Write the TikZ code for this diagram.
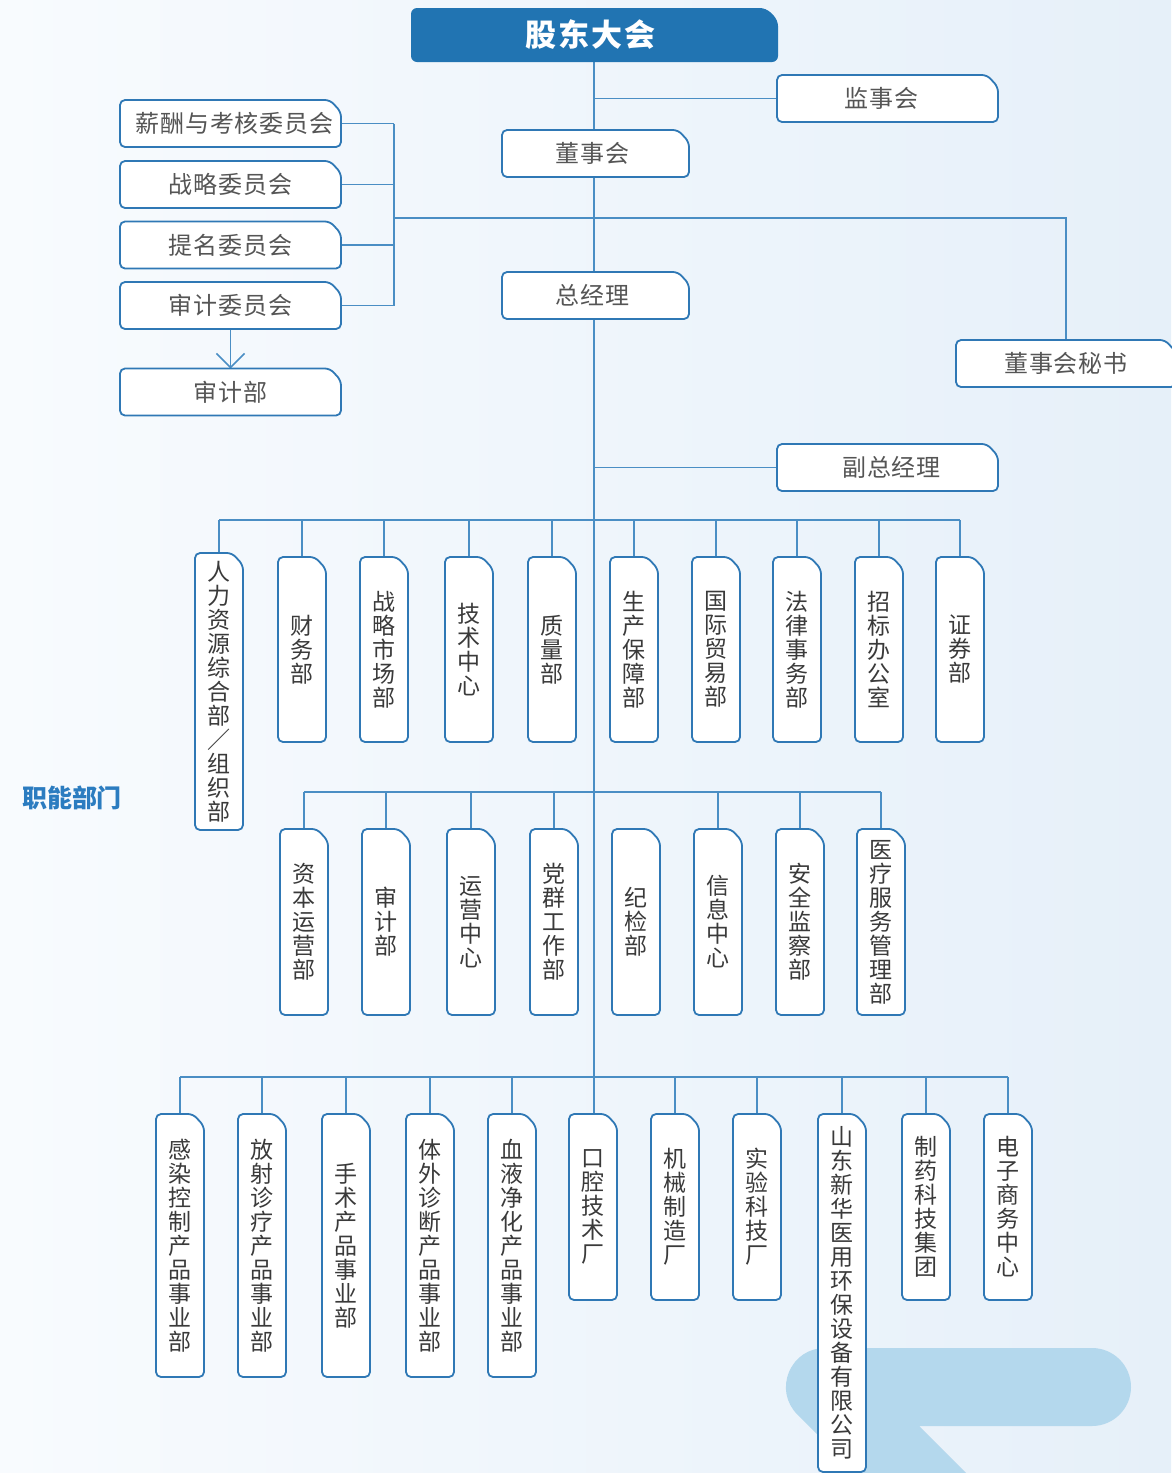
\documentclass[tikz,border=0pt]{standalone}
\usepackage{fontspec}
\setmainfont{Noto Sans CJK SC}
\newfontfamily\cjkls{Noto Sans CJK SC}[LetterSpace=4]
\newfontfamily\cjkhd{Noto Sans CJK SC}[LetterSpace=6]
\usetikzlibrary{arrows.meta,calc}
\definecolor{lc}{HTML}{4A8EC4}
\definecolor{bc}{HTML}{2F78B5}
\definecolor{hd}{HTML}{2174B2}
\definecolor{lab}{HTML}{2B7CC0}
\definecolor{tx}{HTML}{555555}
\definecolor{tv}{HTML}{3A3A3A}
\definecolor{deco}{HTML}{B4D8ED}
\definecolor{bgl}{HTML}{F8FBFE}
\definecolor{bgr}{HTML}{E6F0F9}
\pgfdeclarelayer{back}\pgfdeclarelayer{mid}
\pgfsetlayers{back,mid,main}
\tikzset{
  every node/.style={inner sep=0pt, outer sep=0pt},
  hbox/.style={minimum width=221pt, minimum height=47pt, text=tx, font=\cjkls\fontsize{24}{24}\selectfont},
  vbox/.style={minimum width=48pt, text=tv, font=\fontsize{23}{24}\selectfont, align=center},
  conn/.style={draw=lc, line width=1.8pt},
  outline/.style={fill=white, draw=bc, line width=1.8pt, rounded corners=5pt},
}
\begin{document}
\begin{tikzpicture}[x=1pt,y=-1pt]
\useasboundingbox (0,0) rectangle (1171,1473);
\clip (0,0) rectangle (1171,1473);
% ---------- nodes ----------
\node[minimum width=367pt, minimum height=54pt, text=white, font=\cjkhd\fontsize{31}{31}\selectfont\bfseries] (gd) at (594.5,35) {\hspace*{-8pt}股东大会};
\node[hbox] (jsh) at (887.5,98.5) {\hspace*{-12pt}监事会};
\node[hbox, minimum width=187pt] (dsh) at (595.5,153.5) {\hspace*{-6pt}董事会};
\node[hbox, minimum width=187pt] (zjl) at (595.5,295.5) {\hspace*{-6pt}总经理};
\node[hbox] (xc) at (230.5,123.5) {\hspace*{8pt}薪酬与考核委员会};
\node[hbox] (zl) at (230.5,184.5) {战略委员会};
\node[hbox] (tm) at (230.5,245) {提名委员会};
\node[hbox] (sj) at (230.5,305.5) {审计委员会};
\node[hbox] (sjb) at (230.5,392) {审计部};
\node[hbox, minimum width=220pt] (mss) at (1066,363.5) {董事会秘书};
\node[hbox] (fzj) at (887.5,467.5) {\hspace*{8pt}副总经理};
\node[text=lab, font=\fontsize{25}{25}\selectfont\bfseries] (znbm) at (72,798) {职能部门};
% row 1
\node[vbox, minimum height=277pt] (a1) at (219,691.5) {人\\力\\资\\源\\综\\合\\部\\／\\组\\织\\部};
\node[vbox, minimum height=185pt] (a2) at (302,649.5) {财\\务\\部};
\node[vbox, minimum height=185pt] (a3) at (384,649.5) {战\\略\\市\\场\\部};
\node[vbox, minimum height=185pt] (a4) at (469,649.5) {技\\术\\中\\心};
\node[vbox, minimum height=185pt] (a5) at (552,649.5) {质\\量\\部};
\node[vbox, minimum height=185pt] (a6) at (634,649.5) {生\\产\\保\\障\\部};
\node[vbox, minimum height=185pt] (a7) at (716,649.5) {国\\际\\贸\\易\\部};
\node[vbox, minimum height=185pt] (a8) at (797,649.5) {法\\律\\事\\务\\部};
\node[vbox, minimum height=185pt] (a9) at (879,649.5) {招\\标\\办\\公\\室};
\node[vbox, minimum height=185pt] (a10) at (960,649.5) {证\\券\\部};
% row 2
\node[vbox, minimum height=186pt] (b1) at (304,922) {资\\本\\运\\营\\部};
\node[vbox, minimum height=186pt] (b2) at (386,922) {审\\计\\部};
\node[vbox, minimum height=186pt] (b3) at (471,922) {运\\营\\中\\心};
\node[vbox, minimum height=186pt] (b4) at (554,922) {党\\群\\工\\作\\部};
\node[vbox, minimum height=186pt] (b5) at (636,922) {纪\\检\\部};
\node[vbox, minimum height=186pt] (b6) at (718,922) {信\\息\\中\\心};
\node[vbox, minimum height=186pt] (b7) at (800,922) {安\\全\\监\\察\\部};
\node[vbox, minimum height=186pt] (b8) at (881,922) {医\\疗\\服\\务\\管\\理\\部};
% row 3
\node[vbox, minimum height=263pt] (c1) at (180,1245.5) {感\\染\\控\\制\\产\\品\\事\\业\\部};
\node[vbox, minimum height=263pt] (c2) at (262,1245.5) {放\\射\\诊\\疗\\产\\品\\事\\业\\部};
\node[vbox, minimum height=263pt] (c3) at (346,1245.5) {手\\术\\产\\品\\事\\业\\部};
\node[vbox, minimum height=263pt] (c4) at (430,1245.5) {体\\外\\诊\\断\\产\\品\\事\\业\\部};
\node[vbox, minimum height=263pt] (c5) at (512,1245.5) {血\\液\\净\\化\\产\\品\\事\\业\\部};
\node[vbox, minimum height=186pt] (c6) at (593,1207) {口\\腔\\技\\术\\厂};
\node[vbox, minimum height=186pt] (c7) at (675,1207) {机\\械\\制\\造\\厂};
\node[vbox, minimum height=186pt] (c8) at (757,1207) {实\\验\\科\\技\\厂};
\node[vbox, minimum height=358pt] (c9) at (842,1293) {山\\东\\新\\华\\医\\用\\环\\保\\设\\备\\有\\限\\公\\司};
\node[vbox, minimum height=186pt] (c10) at (926,1207) {制\\药\\科\\技\\集\\团};
\node[vbox, minimum height=186pt] (c11) at (1008,1207) {电\\子\\商\\务\\中\\心};
% helper coordinates
\coordinate (T) at (594,0);
\coordinate (B) at (394,218);
\coordinate (bus1) at (0,520);
\coordinate (bus2) at (0,792);
\coordinate (bus3) at (0,1077);
% ---------- background, decoration, connectors ----------
\begin{pgfonlayer}{back}
\shade[left color=bgl, right color=bgr] (0,0) rectangle (1171,1473);
\draw[deco, line width=78pt, line cap=round, line join=round] (1092,1387) -- (825,1387) -- (1025,1587);
% trunk
\draw[conn] (gd.south -| T) -- (dsh.north -| T);
\draw[conn] (dsh.south -| T) -- (zjl.north -| T);
\draw[conn] (zjl.south -| T) -- (c6.north -| T);
\draw[conn] (T |- jsh.west) -- (jsh.west);
\draw[conn] (T |- fzj.west) -- (fzj.west);
% committees bracket
\foreach \n in {xc,zl,tm,sj} \draw[conn] (\n.east) -- (\n.east -| B);
\draw[conn] (xc.east -| B) -- (sj.east -| B);
\draw[conn, line width=1.5pt] (B) -| (mss.north);
\draw[conn, -{Straight Barb[length=14pt,width=28pt,line width=1.5pt]}] (sj.south) -- (sjb.north);
% row 1
\draw[conn] (a1.north |- bus1) -- (a10.north |- bus1);
\foreach \n in {a1,a2,a3,a4,a5,a6,a7,a8,a9,a10} \draw[conn] (\n.north |- bus1) -- (\n.north);
% row 2
\draw[conn] (b1.north |- bus2) -- (b8.north |- bus2);
\foreach \n in {b1,b2,b3,b4,b6,b7,b8} \draw[conn] (\n.north |- bus2) -- (\n.north);
% row 3
\draw[conn] (c1.north |- bus3) -- (c11.north |- bus3);
\foreach \n in {c1,c2,c3,c4,c5,c7,c8,c9,c10,c11} \draw[conn] (\n.north |- bus3) -- (\n.north);
\end{pgfonlayer}
% ---------- box outlines ----------
\begin{pgfonlayer}{mid}
\fill[hd, rounded corners=6pt] (gd.south west) -- (gd.north west) -- ([xshift=-12pt]gd.north east) -- ([yshift=-12pt]gd.north east) -- (gd.south east) -- cycle;
\foreach \n in {jsh,dsh,zjl,xc,zl,tm,sj,sjb,mss,fzj,
  a1,a2,a3,a4,a5,a6,a7,a8,a9,a10,b1,b2,b3,b4,b5,b6,b7,b8,
  c1,c2,c3,c4,c5,c6,c7,c8,c9,c10,c11}
  \filldraw[outline] (\n.south west) -- (\n.north west) -- ([xshift=-11pt]\n.north east) -- ([yshift=-12pt]\n.north east) -- (\n.south east) -- cycle;
\end{pgfonlayer}
\end{tikzpicture}
\end{document}
